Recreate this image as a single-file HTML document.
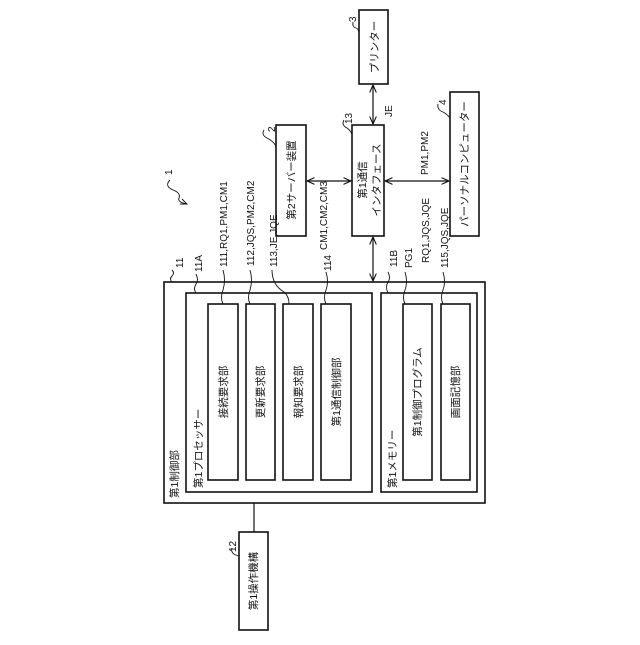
<!DOCTYPE html>
<html><head><meta charset="utf-8"><style>
html,body{margin:0;padding:0;background:#fff}
svg text{font-family:"Liberation Sans","Noto Sans CJK JP",sans-serif;fill:#111}
</style></head><body>
<svg width="640" height="640" viewBox="0 0 640 640" xmlns="http://www.w3.org/2000/svg">
<defs>
<marker id="a" viewBox="0 0 10 10" refX="9" refY="5" markerWidth="7" markerHeight="7" orient="auto-start-reverse"><path d="M0,1 L9,5 L0,9" fill="none" stroke="#111" stroke-width="1.3"/></marker>
</defs>
<g fill="none" stroke="#111" stroke-width="1.6">
<rect x="164" y="282" width="321" height="221"/>
<rect x="186" y="293" width="186" height="199"/>
<rect x="381" y="293" width="96" height="199"/>
<rect x="208" y="304" width="30" height="176"/>
<rect x="246" y="304" width="29" height="176"/>
<rect x="283" y="304" width="30" height="176"/>
<rect x="321" y="304" width="30" height="176"/>
<rect x="403" y="304" width="29" height="176"/>
<rect x="441" y="304" width="29" height="176"/>
<rect x="239" y="532" width="29" height="98"/>
<rect x="359" y="10" width="29" height="74"/>
<rect x="276" y="125" width="30" height="111"/>
<rect x="352" y="125" width="32" height="111"/>
<rect x="450" y="92" width="29" height="144"/>
</g>
<g stroke="#111" stroke-width="1.2" fill="none">
<line x1="254" y1="503" x2="254" y2="532"/>
<line x1="307" y1="181" x2="351" y2="181" marker-start="url(#a)" marker-end="url(#a)"/>
<line x1="385" y1="181" x2="449" y2="181" marker-start="url(#a)" marker-end="url(#a)"/>
<line x1="373" y1="85" x2="373" y2="124" marker-start="url(#a)" marker-end="url(#a)"/>
<line x1="373" y1="237" x2="373" y2="281" marker-start="url(#a)" marker-end="url(#a)"/>
<g stroke-width="0.9">
<path d="M172,270 q3,3 0,6 q-3,3 0,6"/>
<path d="M196,274 q3,6 0,10 q-3,5 0,9"/>
<path d="M223,270 q3,10 0,20 q-3,8 0,14"/>
<path d="M250,270 q3,10 0,20 q-3,8 0,14"/>
<path d="M272,270 q0,15 12,22 q5,4 5,12"/>
<path d="M326,272 q3,10 0,18 q-3,8 0,14"/>
<path d="M388,272 q3,6 0,10 q-3,5 0,11"/>
<path d="M405,272 q3,10 0,18 q-3,8 0,14"/>
<path d="M443,272 q3,10 0,18 q-3,8 0,14"/>
<path d="M264,130 q-3,5 3,8 q6,3 9,8"/>
<path d="M344,120 q-3,5 3,8 q3,2 5,6"/>
<path d="M353,22 q-1,5 3,6 q3,1 3,6"/>
<path d="M438,104 q-1,6 5,8 q4,2 7,6"/>
<path d="M232,548 q-2,6 7,8"/>
<path d="M170,180 q-6,6 3,10 q8,3 6,8 q-2,4 8,6"/>
<path d="M182,199 l5,5 l-7,0"/>
</g>
</g>
<g font-size="10">
<text transform="translate(227,267) rotate(-90)">111,RQ1,PM1,CM1</text>
<text transform="translate(254,266) rotate(-90)">112,JQS,PM2,CM2</text>
<text transform="translate(277,267) rotate(-90)">113,JE,JQE</text>
<text transform="translate(327,250) rotate(-90)">CM1,CM2,CM3</text>
<text transform="translate(331,271) rotate(-90)">114</text>
<text transform="translate(202,272) rotate(-90)">11A</text>
<text transform="translate(183,268) rotate(-90)">11</text>
<text transform="translate(397,267) rotate(-90)">11B</text>
<text transform="translate(412,268) rotate(-90)">PG1</text>
<text transform="translate(429,263) rotate(-90)">RQ1,JQS,JQE</text>
<text transform="translate(448,268) rotate(-90)">115,JQS,JQE</text>
<text transform="translate(428,175) rotate(-90)">PM1,PM2</text>
<text transform="translate(392,117) rotate(-90)">JE</text>
<text transform="translate(275,132) rotate(-90)">2</text>
<text transform="translate(352,124) rotate(-90)">13</text>
<text transform="translate(356,22) rotate(-90)">3</text>
<text transform="translate(446,105) rotate(-90)">4</text>
<text transform="translate(172,175) rotate(-90)">1</text>
<text transform="translate(236,552) rotate(-90)">12</text>
</g>
<g font-size="10.5" text-anchor="middle">
<text transform="translate(227,392) rotate(-90)">接続要求部</text>
<text transform="translate(264,392) rotate(-90)">更新要求部</text>
<text transform="translate(302,392) rotate(-90)">報知要求部</text>
<text transform="translate(340,392) rotate(-90)">第1通信制御部</text>
<text transform="translate(421,392) rotate(-90)">第1制御プログラム</text>
<text transform="translate(459,392) rotate(-90)">画面記憶部</text>
<text transform="translate(257,581) rotate(-90)">第1操作機構</text>
<text transform="translate(378,47) rotate(-90)">プリンター</text>
<text transform="translate(295,180) rotate(-90)">第2サーバー装置</text>
<text transform="translate(468,164) rotate(-90)">パーソナルコンピューター</text>
<text transform="translate(366,180) rotate(-90)">第1通信</text>
<text transform="translate(380,180) rotate(-90)">インタフェース</text>
</g>
<g font-size="10.5">
<text transform="translate(178,498) rotate(-90)">第1制御部</text>
<text transform="translate(202,488) rotate(-90)">第1プロセッサー</text>
<text transform="translate(396,488) rotate(-90)">第1メモリー</text>
</g>
</svg>
</body></html>
